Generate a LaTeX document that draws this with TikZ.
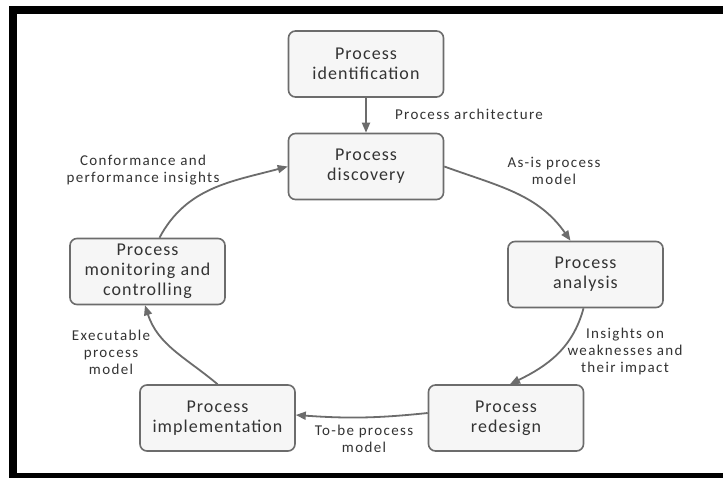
\documentclass[tikz,border=0pt]{standalone}
\usepackage{fontspec}
\setmainfont{Carlito}
\newfontfamily\boxfont[LetterSpace=6]{Carlito}
\newfontfamily\lblfont[LetterSpace=9]{Carlito}
\usetikzlibrary{arrows.meta}
\definecolor{edgegray}{HTML}{6C6C6C}
\definecolor{boxfill}{HTML}{F6F6F6}
\definecolor{txt}{HTML}{333333}
\begin{document}
\begin{tikzpicture}[x=1pt,y=1pt,
  stage/.style={draw=edgegray, line width=1.6pt, fill=boxfill, rounded corners=7pt,
    minimum width=155pt, minimum height=66pt, inner sep=0pt, align=center,
    text=txt, font=\boxfont\fontsize{18}{20}\selectfont},
  flow/.style={draw=edgegray, line width=1.8pt,
    -{Triangle[length=10pt,width=8pt]}},
  note/.style={align=center, inner sep=0pt, text=txt,
    font=\lblfont\fontsize{15}{17}\selectfont}]
  % canvas and frame
  \fill[white] (0,0) rectangle (723,-478);
  \useasboundingbox (0,0) rectangle (723,-478);
  \fill[black] (9,-6) rectangle (723,-14);
  \fill[black] (9,-6) rectangle (17,-478);
  \fill[black] (9,-473) rectangle (723,-478);

  % stages of the lifecycle
  \node[stage] (ident) at (366,-64)   {Process\\identification};
  \node[stage] (disc)  at (366,-166.5) {Process\\discovery};
  \node[stage] (anal)  at (585.5,-274.5) {Process\\analysis};
  \node[stage] (redes) at (506,-418)  {Process\\redesign};
  \node[stage] (impl)  at (217.5,-418) {Process\\implementation};
  \node[stage] (monit) at (147.5,-271.5) {Process\\monitoring and\\controlling};

  % connectors
  \draw[flow] (ident.south) -- (disc.north);
  \draw[flow] (disc.east) to[out=-20,in=125] ([xshift=-15pt]anal.north);
  \draw[flow] ([xshift=-2pt]anal.south) to[out=-105,in=26] ([xshift=4pt]redes.north);
  \draw[flow] ([yshift=5pt]redes.west) to[out=186,in=-4] ([yshift=3pt]impl.east);
  \draw[flow] (impl.north) to[out=140,in=-72] ([xshift=-2.5pt]monit.south);
  \draw[flow] ([xshift=12pt]monit.north) to[out=62,in=195] (disc.west);

  % connector labels
  \node[note] (l1) at (469,-114)   {Process architecture};
  \node[note] (l2) at (554,-170.5) {As-is process\\model};
  \node[note] (l3) at (625,-352)   {Insights on\\weaknesses and\\their impact};
  \node[note] (l4) at (364,-438.5) {To-be process\\model};
  \node[note] (l5) at (111,-352)   {Executable\\process\\model};
  \node[note] (l6) at (143,-170.5) {Conformance and\\performance insights};
\end{tikzpicture}
\end{document}
